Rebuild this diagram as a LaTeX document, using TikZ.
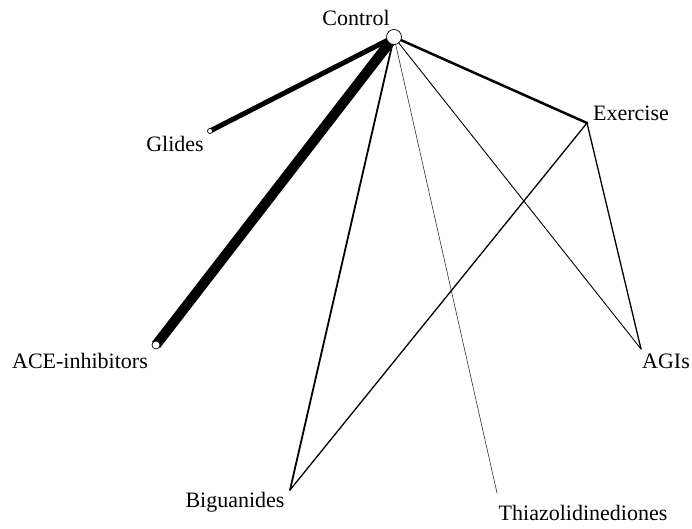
\documentclass[tikz,border=0pt]{standalone}
\usepackage{fontspec}
\setmainfont{Liberation Serif}
\begin{document}
\begin{tikzpicture}[x=1pt,y=-1pt,
  trt/.style={circle,draw=black,fill=white,line width=0.7pt,inner sep=0pt},
  lab/.style={anchor=base,font=\fontsize{22}{25}\selectfont,inner sep=0pt},
  edge/.style={draw=black,line cap=round}]
\useasboundingbox[fill=white] (0,0) rectangle (692,529);
% treatment points
\coordinate (ctrl) at (394,37);
\coordinate (glid) at (210,131);
\coordinate (ace) at (156,345);
\coordinate (exer) at (587,123);
\coordinate (agi) at (641,349);
\coordinate (big) at (290,490);
\coordinate (thz) at (497,493);
% edges
\draw[edge,line width=10pt,line cap=butt] (ctrl) -- (ace);
\draw[edge,line width=5pt,line cap=butt] (ctrl) -- (glid);
\draw[edge,line width=2.5pt] (ctrl) -- (exer);
\draw[edge,line width=1.8pt] (ctrl) -- (big);
\draw[edge,line width=0.9pt] (ctrl) -- (agi);
\draw[edge,line width=0.6pt,draw=black!80] (ctrl) -- (thz);
\draw[edge,line width=1.3pt] (exer) -- (agi);
\draw[edge,line width=1.3pt] (exer) -- (big);
% node circles
\node[trt,minimum size=15pt] (nctrl) at (ctrl) {};
\node[trt,minimum size=5pt] (nglid) at (glid) {};
\node[trt,minimum size=8pt] (nace) at (ace) {};
% labels
\node[lab] (lctrl) at (356,26) {Control};
\node[lab] (lglid) at (175,152) {Glides};
\node[lab] (lace) at (80,368) {ACE-inhibitors};
\node[lab] (lexer) at (631,121) {Exercise};
\node[lab] (lagi) at (666,368) {AGIs};
\node[lab] (lbig) at (235,507) {Biguanides};
\node[lab] (lthz) at (583,520) {Thiazolidinediones};
\end{tikzpicture}
\end{document}
